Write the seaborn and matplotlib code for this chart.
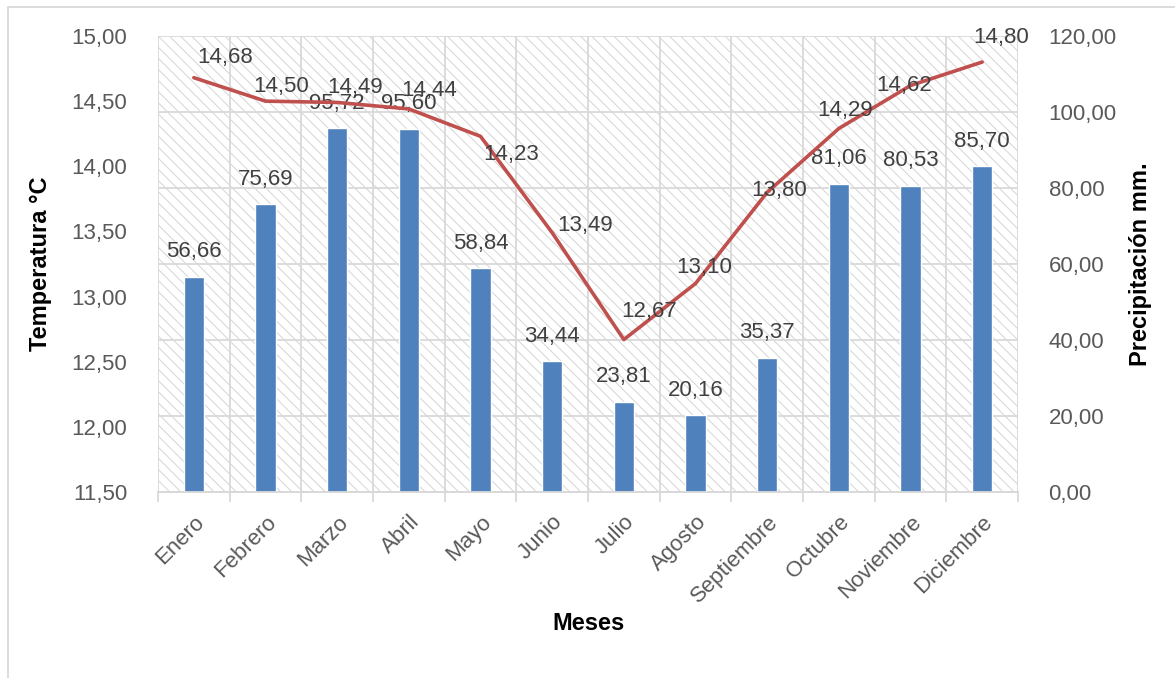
import matplotlib
matplotlib.use('Agg')
import matplotlib.pyplot as plt
import seaborn as sns
import numpy as np
from matplotlib.patches import Rectangle
from matplotlib.lines import Line2D
from matplotlib.ticker import FixedLocator, FuncFormatter

meses = ['Enero', 'Febrero', 'Marzo', 'Abril', 'Mayo', 'Junio', 'Julio',
         'Agosto', 'Septiembre', 'Octubre', 'Noviembre', 'Diciembre']
temperatura = [14.68, 14.50, 14.49, 14.44, 14.23, 13.49, 12.67, 13.10, 13.80, 14.29, 14.62, 14.80]
precipitacion = [56.66, 75.69, 95.72, 95.60, 58.84, 34.44, 23.81, 20.16, 35.37, 81.06, 80.53, 85.70]

# desplazamiento de las etiquetas de la linea (pixeles)
offs_temp = [(31, 20), (16, 15), (18, 15), (20, 18), (31, -18), (33, 7), (25, 28),
             (9, 16), (12, 2), (6, 18), (-6, 0), (19, 25)]

sns.set_style('white')
plt.rcParams['font.family'] = ['Liberation Sans', 'DejaVu Sans']
plt.rcParams['hatch.linewidth'] = 0.7

fig = plt.figure(figsize=(11.75, 6.78), dpi=100)
ax = fig.add_axes([158/1175, 1-492/678, 860/1175, 456/678])
ax2 = ax.twinx()

fmt = FuncFormatter(lambda v, p: f'{v:.2f}'.replace('.', ','))

# fondo rayado
ax2.add_patch(Rectangle((0, 0), 1, 1, transform=ax2.transAxes, facecolor='white',
                        edgecolor='#d4d4d4', hatch='\\\\\\', linewidth=0, zorder=-10))

sns.barplot(x=meses, y=precipitacion, ax=ax2, color='#4f81bd', width=0.28,
            saturation=1, zorder=3)
ax2.set_ylim(0, 120)
ax2.set_yticks(np.arange(0, 121, 20))
ax2.yaxis.set_major_formatter(fmt)
ax2.grid(axis='y', color='#d9d9d9', linewidth=1.3, zorder=0)
ax2.set_axisbelow(True)
ax2.set_ylabel('Precipitación mm.', fontsize=17, fontweight='bold', color='black', labelpad=9)
ax2.tick_params(axis='y', length=0, pad=22, labelsize=16, labelcolor='#595959')

for i, v in enumerate(precipitacion):
    ax2.annotate(f'{v:.2f}'.replace('.', ','), (i, v), xytext=(0, 25), textcoords='offset pixels',
                 ha='center', va='center', fontsize=16, color='#404040')

ax.set_zorder(ax2.get_zorder() + 1)
ax.patch.set_visible(False)
sns.lineplot(x=np.arange(12), y=temperatura, ax=ax, color='#c0504d', linewidth=2.6)
ax.set_ylim(11.5, 15)
ax.set_yticks(np.arange(11.5, 15.01, 0.5))
ax.yaxis.set_major_formatter(fmt)
ax.tick_params(axis='y', length=0, pad=22, labelsize=16, labelcolor='#595959')
ax.set_ylabel('Temperatura °C', fontsize=17, fontweight='bold', color='black', labelpad=14)

for i, v in enumerate(temperatura):
    dx, dy = offs_temp[i]
    ax.annotate(f'{v:.2f}'.replace('.', ','), (i, v), xytext=(dx, dy), textcoords='offset pixels',
                ha='center', va='center', fontsize=16, color='#404040')

ax.set_xlim(-0.5, 11.5)
ax.set_xticks(np.arange(12))
ax.set_xticklabels(meses, rotation=45, ha='right', rotation_mode='anchor')
ax.xaxis.set_minor_locator(FixedLocator(np.arange(-0.5, 12, 1)))
ax.tick_params(axis='x', which='major', length=0, pad=14, labelsize=16, labelcolor='#595959')
ax.tick_params(axis='x', which='minor', length=7, width=1.3, color='#d9d9d9', direction='out', bottom=True)
ax.grid(axis='x', which='minor', color='#d9d9d9', linewidth=1.3)
ax.set_xlabel('Meses', fontsize=17, fontweight='bold', color='black', labelpad=4)

for a in (ax, ax2):
    for s in ['top', 'left', 'right']:
        a.spines[s].set_visible(False)
    a.spines['bottom'].set_color('#d9d9d9')
    a.spines['bottom'].set_linewidth(1.3)

# borde del grafico
fig.add_artist(Line2D([8/1175, 8/1175], [0, 1-7/678], transform=fig.transFigure, color='#d9d9d9', linewidth=1.3))
fig.add_artist(Line2D([8/1175, 1], [1-7/678, 1-7/678], transform=fig.transFigure, color='#d9d9d9', linewidth=1.3))

fig.savefig('out.png', dpi=100)
